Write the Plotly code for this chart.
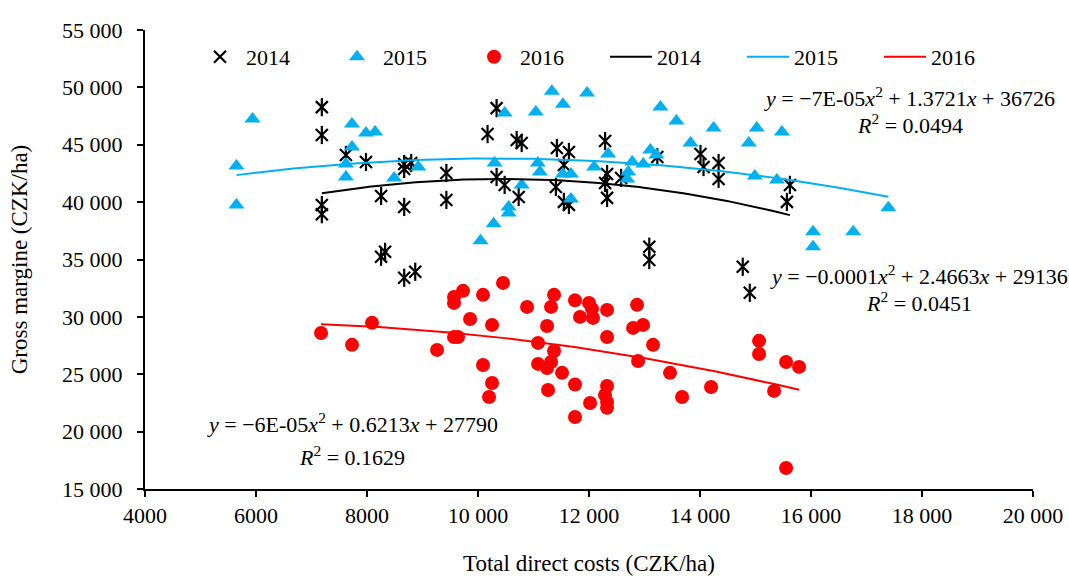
import numpy as np
import plotly.graph_objects as go

# ---- data ----
x2014 = [7186, 7186, 7186, 7186, 7620, 7982, 8254, 8670, 8670, 8797, 8670, 8254, 8326, 8670, 8869,
         9430, 9430, 10335, 10172, 10335, 10480, 10697, 10787, 10733, 11421, 11638, 11548, 11403,
         11548, 11638, 12290, 12326, 12290, 12326, 12579, 13086, 13086, 13231, 14009, 14064, 14335,
         14335, 15620, 15566, 14770, 14897]
y2014 = [48280, 45850, 39750, 38950, 44110, 43500, 40540, 43320, 42890, 43410, 39580, 35240, 35670,
         33410, 33930, 42540, 40190, 48190, 45930, 42190, 41500, 45410, 45150, 40450, 44720, 44370,
         43240, 41320, 40020, 39760, 45320, 42450, 41670, 40370, 42110, 36110, 34950, 43930, 44190,
         43060, 43410, 42020, 41500, 40020, 34370, 32100]

x2015 = [5937, 5647, 5647, 7729, 7982, 8145, 7729, 7620, 7620, 8489, 8924, 11331, 11965, 11530,
         11041, 10480, 13286, 13575, 10299, 11078, 11114, 10787, 10552, 10552, 10281, 10045, 11530,
         11675, 11675, 12091, 12345, 12779, 12978, 12706, 12688, 13104, 13213, 14245, 15023, 15476,
         13829, 14879, 14987, 15386, 17394, 16037, 16761, 16037]
y2015 = [47240, 43150, 39760, 46800, 46020, 46110, 44800, 43320, 42190, 42110, 43060, 49670, 49500,
         48540, 47850, 47760, 48280, 47060, 43410, 43410, 42630, 41500, 39580, 39060, 38110, 36630,
         42450, 42450, 40280, 43060, 44190, 43500, 43320, 42630, 42020, 44540, 44110, 46450, 46450,
         46110, 45150, 45150, 42280, 41930, 39500, 37410, 37410, 36110]

x2016 = [7172, 7730, 8090, 9262, 9568, 9640, 9568, 9568, 9730, 10090, 9857, 10253, 10090, 10253,
         10199, 10451, 10884, 11370, 11316, 11244, 11082, 11370, 11082, 11244, 11316, 11514, 11262,
         11748, 11748, 11748, 12000, 12054, 11838, 12072, 12325, 12325, 12866, 12794, 12974, 13154,
         12884, 13460, 13677, 14199, 12019, 12325, 12289, 12325, 12325, 15064, 15064, 15551, 15785,
         15335, 15551]
y2016 = [28600, 27560, 29480, 27120, 28250, 28250, 31740, 31220, 32270, 31920, 29820, 29300, 25810,
         24240, 23020, 32960, 30870, 31920, 30870, 29210, 27730, 27030, 25900, 25550, 26070, 25120,
         23630, 31440, 24110, 21280, 31220, 30700, 30000, 29910, 30610, 28250, 31050, 29040, 29300,
         27560, 26160, 25120, 23020, 23890, 22500, 23980, 23200, 22590, 22070, 27910, 26770, 26070,
         25640, 23550, 16830]

# quadratic trendline coefficients (a, b, c) as printed on the chart; the x^2 term,
# printed with one significant digit, is read more finely from the drawn curves
trend2014 = [-0.000118, 2.4663, 29136]
trend2015 = [-0.0000665, 1.3721, 36726]
trend2016 = [-0.000056, 0.6213, 27790]

eq_texts = [
    "<i>y</i> = −0.0001<i>x</i><sup>2</sup> + 2.4663<i>x</i> + 29136",
    "<i>y</i> = −7E-05<i>x</i><sup>2</sup> + 1.3721<i>x</i> + 36726",
    "<i>y</i> = −6E-05<i>x</i><sup>2</sup> + 0.6213<i>x</i> + 27790",
]
r2_texts = ["<i>R</i><sup>2</sup> = 0.0451", "<i>R</i><sup>2</sup> = 0.0494", "<i>R</i><sup>2</sup> = 0.1629"]

x_tickvals = [4000, 6000, 8000, 10000, 12000, 14000, 16000, 18000, 20000]
x_ticktext = ["4000", "6000", "8000", "10 000", "12 000", "14 000", "16 000", "18 000", "20 000"]
y_tickvals = [15000, 20000, 25000, 30000, 35000, 40000, 45000, 50000, 55000]
y_ticktext = ["15 000", "20 000", "25 000", "30 000", "35 000", "40 000", "45 000", "50 000", "55 000"]

FONT = "Liberation Serif"
TXT = "#000000"
BLACK = "#000000"
BLUE = "#00B0F0"
RED = "#FF0000"


def trend(xs, coef):
    xx = np.linspace(min(xs), max(xs), 150)
    return xx, np.polyval(coef, xx)


fig = go.Figure()

fig.add_trace(go.Scatter(x=x2014, y=y2014, mode="markers", name="2014",
                         marker=dict(symbol="x-thin-open", size=12, color=BLACK,
                                     line=dict(width=2.2, color=BLACK))))
fig.add_trace(go.Scatter(x=x2014, y=y2014, mode="markers", showlegend=False, hoverinfo="skip",
                         marker=dict(symbol="line-ns-open", size=13, color=BLACK,
                                     line=dict(width=2.2, color=BLACK))))
fig.add_trace(go.Scatter(x=x2015, y=y2015, mode="markers", name="2015",
                         marker=dict(symbol="triangle-up", size=14, color=BLUE)))
fig.add_trace(go.Scatter(x=x2016, y=y2016, mode="markers", name="2016",
                         marker=dict(symbol="circle", size=14, color=RED)))

for xs, coef, col, nm in [(x2014, trend2014, BLACK, "2014"), (x2015, trend2015, BLUE, "2015"),
                          (x2016, trend2016, RED, "2016")]:
    tx, ty = trend(xs, coef)
    fig.add_trace(go.Scatter(x=tx, y=ty, mode="lines", name=nm,
                             line=dict(color=col, width=2)))

W, H = 1069, 576
L, R, T, B = 145, 36, 30, 87
pw, ph = W - L - R, H - T - B

ann_pos = [((919, 275), (919, 302)), ((909, 97), (910, 124)), ((352, 423), (352, 456))]


def px2paper(px, py):
    return (px - L) / pw, (H - B - py) / ph


annotations = []
for (p1, p2), e, r in zip(ann_pos, eq_texts, r2_texts):
    for (px, py), txt in [(p1, e), (p2, r)]:
        ax, ay = px2paper(px, py)
        annotations.append(dict(x=ax, y=ay, xref="paper", yref="paper", text=txt, showarrow=False,
                                xanchor="center", yanchor="middle",
                                font=dict(family=FONT, size=22, color=TXT)))

lx, ly = px2paper(194, 57)

fig.update_layout(
    template="none",
    width=W, height=H,
    margin=dict(l=L, r=R, t=T, b=B, pad=0),
    paper_bgcolor="white", plot_bgcolor="white",
    font=dict(family=FONT, size=22, color=TXT),
    showlegend=True,
    legend=dict(orientation="h", x=lx, y=ly, xanchor="left", yanchor="middle",
                entrywidth=80, entrywidthmode="pixels", itemwidth=42,
                bgcolor="rgba(0,0,0,0)", borderwidth=0,
                font=dict(family=FONT, size=22, color=TXT),
                traceorder="normal"),
    annotations=annotations,
    xaxis=dict(range=[4000, 20000], tickvals=x_tickvals, ticktext=x_ticktext, automargin=False,
               showline=True, linecolor=BLACK, linewidth=2, ticks="outside", ticklen=6,
               tickwidth=2, tickcolor=BLACK, showgrid=False, zeroline=False,
               ticklabelstandoff=0, tickfont=dict(family=FONT, size=22, color=TXT),
               title=dict(text="Total direct costs (CZK/ha)", standoff=28,
                          font=dict(family=FONT, size=23, color=TXT))),
    yaxis=dict(range=[15000, 55000], tickvals=y_tickvals, ticktext=y_ticktext, automargin=False,
               showline=True, linecolor=BLACK, linewidth=2, ticks="outside", ticklen=6,
               tickwidth=2, tickcolor=BLACK, showgrid=False, zeroline=False,
               ticklabelstandoff=10, tickfont=dict(family=FONT, size=22, color=TXT),
               title=dict(text="Gross margine (CZK/ha)", standoff=28,
                          font=dict(family=FONT, size=23, color=TXT))),
)

# remove the browser's default 8px page margin so the 1069x576 figure fills the window
fig.write_html("out.html", config={"displayModeBar": False},
               post_script="document.body.style.margin='0';document.body.style.overflow='hidden';")
